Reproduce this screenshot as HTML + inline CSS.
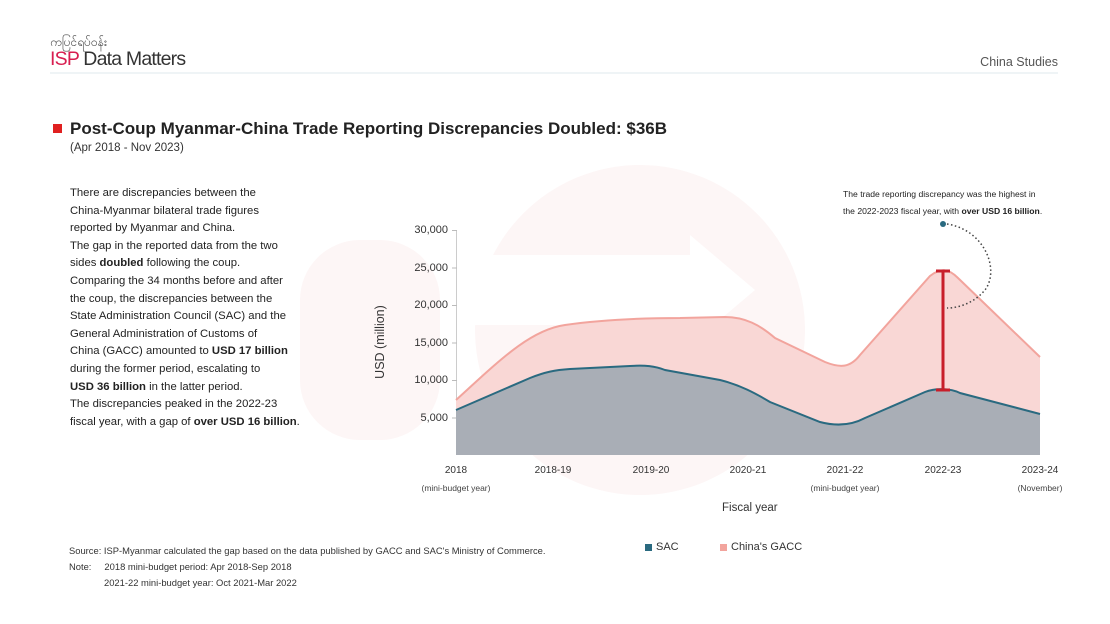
<!DOCTYPE html>
<html><head><meta charset="utf-8"><style>
body{margin:0;background:#fff;font-family:"Liberation Sans",sans-serif;color:#222}
.wrap{position:relative;width:1110px;height:624px;overflow:hidden}
.a{position:absolute;white-space:nowrap}
.lt{position:absolute;left:70px;top:185px;font-size:11.3px;line-height:17.6px;color:#222}
</style></head><body><div class="wrap">
<svg class="a" style="left:0;top:0" width="1110" height="624">
 <circle cx="640" cy="330" r="165" fill="#fdf6f6"/>
 <rect x="300" y="240" width="140" height="200" rx="60" fill="#fdf6f6"/>
 <path d="M460,255 L690,255 L690,235 L755,290 L690,345 L690,325 L460,325Z" fill="#fff"/>
 <line x1="50" y1="73" x2="1058" y2="73" stroke="#dfe9ec" stroke-width="1"/>
 <rect x="53" y="124" width="9" height="9" fill="#e02020"/>
 <line x1="456.5" y1="230" x2="456.5" y2="455" stroke="#ccc"/>
 <g stroke="#bbb"><line x1="452" y1="230.5" x2="457" y2="230.5"/><line x1="452" y1="268" x2="457" y2="268"/><line x1="452" y1="305.5" x2="457" y2="305.5"/><line x1="452" y1="343" x2="457" y2="343"/><line x1="452" y1="380.5" x2="457" y2="380.5"/><line x1="452" y1="418" x2="457" y2="418"/></g>
 <path d="M456,400 C500,360 530,330 565,325 C600,320 640,318 680,318 L725,317 C745,317 760,325 775,338 L825,362 C840,368 850,368 860,355 L930,276 C940,268 948,268 958,278 L1040,357 L1040,455 L456,455Z" fill="#f9d7d5"/>
 <path d="M456,400 C500,360 530,330 565,325 C600,320 640,318 680,318 L725,317 C745,317 760,325 775,338 L825,362 C840,368 850,368 860,355 L930,276 C940,268 948,268 958,278 L1040,357" fill="none" stroke="#f2a49d" stroke-width="2"/>
 <path d="M456,410 L530,378 C545,372 555,370 570,369 L630,366 C645,365 655,366 665,370 L720,380 C740,385 755,393 770,402 L820,422 C835,426 850,426 865,418 L925,392 C935,388 950,388 960,393 L1040,414 L1040,455 L456,455Z" fill="#a9aeb6"/>
 <path d="M456,410 L530,378 C545,372 555,370 570,369 L630,366 C645,365 655,366 665,370 L720,380 C740,385 755,393 770,402 L820,422 C835,426 850,426 865,418 L925,392 C935,388 950,388 960,393 L1040,414" fill="none" stroke="#2a6a80" stroke-width="2"/>
 <g stroke="#c81e2a" stroke-width="3"><line x1="943" y1="271" x2="943" y2="390"/><line x1="936" y1="271" x2="950" y2="271"/><line x1="936" y1="390" x2="950" y2="390"/></g>
 <circle cx="943" cy="224" r="3" fill="#2a6a80"/>
 <path d="M947,224 C985,230 1000,270 985,290 C975,302 960,308 947,308" fill="none" stroke="#444" stroke-width="1.5" stroke-dasharray="1.5,2.5"/>
 <rect x="645" y="544" width="7" height="7" fill="#2a6a80"/>
 <rect x="720" y="544" width="7" height="7" fill="#f2a49d"/>
</svg>
<div class="a" style="left:50px;top:33px;font-size:12px;color:#444;font-family:'Noto Sans CJK SC',sans-serif">ကပြင်ရပ်ဝန်း</div>
<div class="a" style="left:50px;top:48px;font-size:19.5px;letter-spacing:-0.8px;color:#333"><span style="color:#d81e50">ISP</span> Data Matters</div>
<div class="a" style="right:52px;top:55px;font-size:12.5px;color:#555">China Studies</div>
<div class="a" style="left:70px;top:119px;font-size:17px;font-weight:bold;color:#222">Post-Coup Myanmar-China Trade Reporting Discrepancies Doubled: $36B</div>
<div class="a" style="left:70px;top:142px;font-size:11.5px;color:#333">(Apr 2018 - Nov 2023)</div>
<div class="lt">There are discrepancies between the<br>China-Myanmar bilateral trade figures<br>reported by Myanmar and China.<br>The gap in the reported data from the two<br>sides <b>doubled</b> following the coup.<br>Comparing the 34 months before and after<br>the coup, the discrepancies between the<br>State Administration Council (SAC) and the<br>General Administration of Customs of<br>China (GACC) amounted to <b>USD 17 billion</b><br>during the former period, escalating to<br><b>USD 36 billion</b> in the latter period.<br>The discrepancies peaked in the 2022-23<br>fiscal year, with a gap of <b>over USD 16 billion</b>.</div>
<div class="a" style="left:843px;top:186px;font-size:8.6px;line-height:17px;color:#222">The trade reporting discrepancy was the highest in<br>the 2022-2023 fiscal year, with <b>over USD 16 billion</b>.</div>
<div class="a" style="left:400px;top:212px;width:48px;text-align:right;font-size:11px;line-height:37.6px;color:#333">30,000<br>25,000<br>20,000<br>15,000<br>10,000<br>5,000</div>
<div class="a" style="left:330px;top:335px;transform:rotate(-90deg);transform-origin:center;width:100px;text-align:center;font-size:12.5px;color:#333">USD (million)</div>
<div class="a" style="top:465px;left:0;width:1110px;font-size:10px;color:#333">
 <span class="a" style="left:436px;width:40px;text-align:center">2018</span>
 <span class="a" style="left:533px;width:40px;text-align:center">2018-19</span>
 <span class="a" style="left:631px;width:40px;text-align:center">2019-20</span>
 <span class="a" style="left:728px;width:40px;text-align:center">2020-21</span>
 <span class="a" style="left:825px;width:40px;text-align:center">2021-22</span>
 <span class="a" style="left:923px;width:40px;text-align:center">2022-23</span>
 <span class="a" style="left:1020px;width:40px;text-align:center">2023-24</span>
</div>
<div class="a" style="top:483px;left:0;width:1110px;font-size:8.5px;color:#444">
 <span class="a" style="left:406px;width:100px;text-align:center">(mini-budget year)</span>
 <span class="a" style="left:795px;width:100px;text-align:center">(mini-budget year)</span>
 <span class="a" style="left:1010px;width:60px;text-align:center">(November)</span>
</div>
<div class="a" style="left:722px;top:502px;font-size:11.5px;color:#333">Fiscal year</div>
<div class="a" style="left:656px;top:541px;font-size:11px;color:#333">SAC</div>
<div class="a" style="left:731px;top:541px;font-size:11px;color:#333">China's GACC</div>
<div class="a" style="left:69px;top:543px;font-size:9.4px;line-height:16px;color:#333">Source: ISP-Myanmar calculated the gap based on the data published by GACC and SAC's Ministry of Commerce.<br>Note:&nbsp;&nbsp;&nbsp;&nbsp;&nbsp;2018 mini-budget period: Apr 2018-Sep 2018<br><span style="padding-left:35px">2021-22 mini-budget year: Oct 2021-Mar 2022</span></div>
</div></body></html>
